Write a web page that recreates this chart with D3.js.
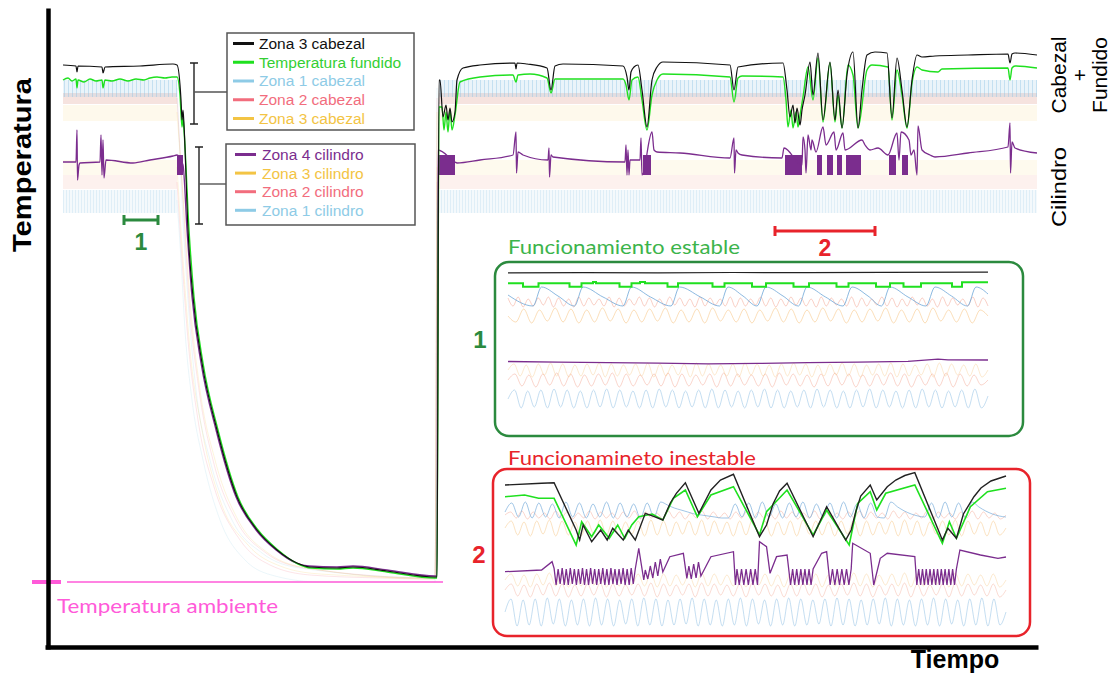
<!DOCTYPE html>
<html>
<head>
<meta charset="utf-8">
<script src="https://d3js.org/d3.v7.min.js"></script>
<style>
  body { margin: 0; background: #fff; }
  svg { display: block; }
</style>
</head>
<body>
<svg id="chart" width="1112" height="675"></svg>
<script>
// ---------- data: main run (t in minutes, T in degC) ----------
var zona3Cabezal = [[0,278.5],[6.5,278],[7,275],[7.5,278],[19.5,277.5],[20,274.5],[21,277.5],[38.5,278],[55,279],[57,278.5],
  [59,261],[59.5,251],[60,256],[60.5,248.5],[62.5,196],[65,162.5],[69.5,129.5],[77,96],[87,62.5],[97,46],[107,36],[117,29.5],
  [123.5,27.5],[137,27],[145,27.5],[162,25.5],[186,22.5],[187,22.5],[188,271],[188.5,271],[190,252.5],[191.5,258.5],[192.5,251],
  [193.5,257],[194.5,250],[196,255],[197,271],[200,277],[208.5,278.5],[226,279.5],[226.5,276.5],[227,279.5],[232,279],[242,277],
  [244,266],[246,278],[250,279],[280,278],[282,272.5],[283,266],[284,275],[285.5,277.5],[287.5,278.5],[289.5,266],[292,247.5],
  [294.5,271],[297,277.5],[300,280],[333.5,278.5],[335.5,266],[337.5,277.5],[360,279.5],[362,266],[363.5,252.5],[365,258.5],
  [366,249.5],[367,257],[368.5,248.5],[369.5,256],[371,263.5],[373.5,280],[375,263.5],[377.5,284.5],[380,251],[383.5,280],
  [386,251],[387.5,266],[389.5,247],[392,273.5],[395,285],[397.5,247],[399.5,266],[402,283.5],[406,285],[412,284.5],[414.5,252],
  [417,282],[419.5,266],[422,247.5],[424.5,271],[427,283.5],[429.5,282.5],[436,283],[452.5,283.5],[472.5,284],[473.5,279.5],
  [474.5,284],[476,284.5],[487,283.5]];

var tempFundido = [[0,271],[2.5,272],[4.5,270.5],[6.5,271.5],[7,267],[7.5,271],[10.5,270],[13.5,271.5],[16.5,270.5],[19.5,271],
  [20,267],[21,271],[24.5,270.5],[28.5,271.5],[32.5,270.5],[36.5,271.5],[40.5,271],[43.5,272],[47,272.5],[51,272],[54.5,272.5],
  [57,272.5],[58.5,263.5],[59.5,247.5],[60,252],[60.5,246],[63,196],[65.5,162.5],[70,129.5],[77.5,96],[87.5,62.5],[97.5,46],
  [107.5,36],[117.5,29],[124,27],[137,26.5],[145,27],[162,25],[186,22],[187,22],[188,257.5],[189.5,257.5],[190.5,246],[191.5,255],
  [192.5,245],[193.5,256],[194.5,246],[196,253.5],[198.5,270],[208.5,272.5],[225,273.5],[226.5,270],[227.5,273.5],[233.5,274],
  [242,272],[244,264.5],[246,271.5],[280,271.5],[281.5,268.5],[283,261],[284.5,271],[287.5,272.5],[289.5,261],[292,246],
  [294.5,263.5],[297,271],[300,274],[333.5,272.5],[335.5,260],[337.5,272],[339.5,273],[360,272.5],[361.5,261],[362.5,247.5],
  [364,256],[365,247],[366.5,255],[367.5,247.5],[368.5,253.5],[370,262.5],[372.5,277.5],[375,261],[377.5,282],[380,250],
  [383.5,279.5],[386,250],[387.5,263.5],[389.5,247],[392.5,278.5],[395,273.5],[397.5,247],[402,276],[404.5,278.5],[412.5,277.5],
  [414.5,251],[417,276],[419.5,263.5],[422,247],[424.5,269.5],[427,277.5],[429.5,276],[437.5,275],[439.5,276.5],[472.5,277],
  [473.5,271],[474.5,277],[476,278],[487,277]];

var zona4Cilindro = [[0,230],[6.5,230],[7,246],[7.25,221],[8,228.5],[8.5,229.5],[18.5,230],[19,243.5],[19.5,223.5],[20,241],
  [20.5,222],[21.5,231],[35,229.5],[43.5,231],[55,233],[57,233.5],[60,228.5],[62,196],[64.5,162.5],[69,129.5],[76.5,96],
  [86.5,62.5],[96.5,46],[106.5,36],[116.5,29.5],[123,28],[137,27.5],[145,28],[162,26],[186,23],[187,23],[187.5,236],[196,230],
  [197,229.5],[208.5,231],[225,233.5],[226.5,245],[226.75,224.5],[227.5,235],[230,233.5],[242.5,231],[243,237],[243.25,222.5],
  [244,233.5],[245,232.5],[281,230],[281.5,238.5],[282,223.5],[282.5,236],[283,223.5],[283.5,231],[288.5,231],[289,242],
  [289.5,223.5],[294.5,245],[295.5,236],[297,235],[308.5,234.5],[333.5,232],[335.5,242],[335.75,224.5],[336.5,236],[337.5,234.5],
  [339.5,233.5],[359.5,232],[360.5,237],[369.5,228.5],[370,242.5],[371,236],[371.5,224.5],[372.5,243.5],[374,236],[374.5,241],
  [376.5,235],[380,247.5],[381.5,238.5],[385.5,245],[386.5,236],[390,244.5],[391,236],[399.5,241],[401,238.5],[403.5,236],
  [407.5,237],[412.5,233.5],[417,244.5],[418,231],[419,245],[423,241],[424,233.5],[425.5,236],[427,223.5],[427.5,248],
  [429.5,236],[433.5,233.5],[436,232.5],[452.5,234.5],[472.5,237.5],[473.5,249.5],[473.75,224.5],[474.5,240],[476,237],[487,234.5]];

// dense oscillation blocks of zona 4 cilindro [t start, t end]
var zona4Bursts = [[57,60],[188,196],[290,294],[361,369.5],[377,379.5],[382,385],[387,389.5],[391.5,399],[413,416.5],[419.5,422.5]];
var zona4BurstRange = [223.5, 233.5];

// faint zones as bands [t, low, high]; null splits the two runs
var zona1CabezalBand = [[0,262.5,271],[57,262.5,271],null,[188,262.5,271],[487,262.5,271]];
var zona2CabezalBand = [[0,259,264.5],[57,259,264.5],null,[188,259,264.5],[487,259,264.5]];
var zona3CabezalBand = [[0,250.5,258.5],[57,250.5,258.5],null,[188,250.5,258.5],[487,250.5,258.5]];
var zona3CilindroBand = [[0,223.5,231],[57,223.5,231],null,[188,223.5,231],[487,223.5,231]];
var zona2CilindroBand = [[0,216.5,223.5],[57,216.5,223.5],null,[188,216.5,223.5],[487,216.5,223.5]];
var zona1CilindroBand = [[0,204.5,216],[57,204.5,216],null,[188,204.5,216],[487,204.5,216]];

// faint zones while cooling
var zona1CabezalDecay = [[57,267],[59.5,211],[62.5,161],[66.5,116],[73.5,81],[84.5,51],[99.5,34.5],[118.5,27],[186,22],[187,267]];
var zona2CabezalDecay = [[57,262],[60,211],[63,161],[68,116],[75,81],[86.5,51],[101.5,34.5],[121,27],[186,22],[187,262]];
var zona3CabezalDecay = [[57,255],[60.5,206],[63.5,161],[68.5,116],[76,81],[87.5,51],[102.5,34.5],[122,27],[186,21.5],[187,255]];
var zona3CilindroDecay = [[57,227.5],[60,181],[63.5,136],[69.5,96],[78.5,61],[92.5,38.5],[108.5,28],[128.5,24],[186,22],[187,227.5]];
var zona2CilindroDecay = [[57,220],[59.5,181],[62.5,141],[67.5,101],[76,66],[88.5,41],[103.5,28.5],[123.5,23.5],[158.5,22],[186,21.5],[187,220]];
var zona1CilindroDecay = [[57,211],[59,181],[61,146],[64.5,111],[70,81],[78.5,51],[91,31],[106,23],[128.5,20],[186,20],[187,211]];

var tAmbiente = 20;

// ---------- data: inset 1, stable run (t 0..96, level 0..174) ----------
var estableCab3 = [[0,163.2],[15,163.4],[30,163.1],[45,163.5],[60,163.3],[75,163.6],[96,163.8]];
var estableFundido = [[0,152.7],[3,149.3],[6.1,152.7],[12.3,149.3],[14.7,152.7],[17,154],[17.6,152.7],[22.3,149.3],[24.7,152.7],
  [26.4,154],[27.4,152.7],[31.9,149.3],[34,152.7],[40.9,149.3],[43.3,152.7],[48.8,149.3],[51.6,152.7],[57.1,149.3],[60.2,152.7],
  [65.7,149.3],[68.1,152.7],[73.6,149.3],[76.4,152.7],[79.1,149.3],[82.6,152.7],[88.8,149.3],[90.8,153.7],[96,153.7]];
var estableCab1 = [[0,141],[5,130],[6.7,149],[10,140],[13.3,130],[15,149],[19,139],[23,130],[24.7,149],[28.5,139],[32.6,130],
  [34.3,149],[38.5,139],[42.3,130],[44,149],[47,140],[49.8,130],[51.6,149],[55,140],[58.1,130],[59.8,149],[63.5,139],[67,130],
  [68.8,149],[72,140],[74.7,130],[76.4,149],[80,139],[83.6,130],[85.4,149],[88.7,140],[91.9,130],[93.6,149],[96,142]];
var estableCab2Osc = [138,130,139,129,137,130,138,131,139,129,138,130,137,129,139,130,138,131,137,130,139,129,138,130,137,131,
  139,130,138,129,137,130,139,131,138,130,137,129,139,130,138,131,137,130,139,129,138,130,137,131,139,130,138,129,137,130,139,131,
  138,130,137,129,139,130,138,131,137,130,139,129,138,130,137,131,139,130,138,129,137,130,139,131,138,130,137,129,139,130,138,131,
  137,130,139,129,138,130];
var estableCab3Osc = [120,114,127,113,126,115,128,114,127,113,126,114,128,115,127,113,126,114,127,115,128,113,126,114,127,113,
  128,115,126,114,127,113,126,115,128,114,127,113,126,114,128,115,127,113,126,114,127,115,128,113,126,114,127,113,128,115,126,114,
  127,113,126,120];
var estableCil4 = [[0,74.5],[10,73.8],[20,73.4],[30,72.8],[40,72.2],[50,72.6],[60,73.4],[70,73.8],[80,74.6],[86,76.8],[88,76.2],[96,76]];
var estableCil3Osc = [66,72,60,71,59,72,61,73,60,72,59,71,60,72,61,73,59,72,60,71,61,72,60,73,59,72,60,71,61,72,59,73,60,72,61,
  71,60,72,59,73,61,72,60,71,59,72,60,73,61,72,59,71,60,72,61,73,60,72,59,71,61,72,60,73,59,72,60,71,61,72,59,73,60,72,61,71,60,
  72,59,66];
var estableCil2Osc = [56,62,50,61,49,62,51,63,50,62,49,61,50,62,51,63,49,62,50,61,51,62,50,63,49,62,50,61,51,62,49,63,50,62,51,
  61,50,62,49,63,51,62,50,61,49,62,50,63,51,62,49,61,50,62,51,63,50,62,49,61,51,62,50,63,49,62,50,61,51,56];
var estableCil1Osc = [37,46,28,45,29,46,28,47,29,46,28,45,28,46,29,47,28,46,29,45,28,46,28,47,29,46,28,45,29,46,28,47,28,46,29,
  45,28,46,29,47,28,46,28,45,29,46,28,47,29,46,28,45,28,46,29,47,28,46,29,45,28,46,28,47,29,46,28,45,29,46,28,47,28,40];

// ---------- data: inset 2, unstable run (t 0..100, level 0..168) ----------
var inestableCab3 = [[0,151],[7.3,152.7],[9.8,153.3],[14.2,106],[14.9,96],[15.6,111],[17.3,94.3],[19.1,106],[20.4,96],
  [21.5,107.7],[23.6,96],[24.6,106],[26,96],[28,122.7],[29.8,119.3],[31.5,116],[33,133],[34.2,142.7],[36,153.3],[38.7,122.7],
  [41.1,146],[43,156],[45.6,161.7],[50.8,99.3],[52.2,111],[53.5,132],[54.8,145],[56.3,152.7],[61.5,99.3],[64.2,129.3],[68,96],
  [69.1,106],[70,124],[71,140],[72.9,151],[74.2,136],[76.3,149.3],[78,156],[79.8,160.5],[81.8,163.3],[87.3,96],[88.4,107.7],
  [90.1,97.7],[91.5,122],[93.6,139.3],[95,148],[97,155],[100,160]];
var inestableFundido = [[0,139.3],[3.9,141],[6.7,137.7],[9.8,137.7],[14.2,91],[15.3,114.3],[17.3,99.3],[18.7,111],[20.8,97.7],
  [22.5,111],[23.9,97.7],[25.3,111],[26.7,119.3],[29.4,122],[31.5,116],[33.6,137.7],[36,146],[38.4,119.3],[41.1,141],[45.6,149.3],
  [50.8,101],[52.2,124.3],[56.3,146],[61.5,101],[64.2,126],[68.7,91],[70.4,132.7],[72.9,144.3],[74.2,126],[76,142.7],[81.8,151],
  [87.3,92.7],[88.7,114.3],[90.1,97.7],[92.9,129.3],[96.3,144.3],[100,147.7]];
var inestableCil4 = [[0,64.3],[7.3,66],[9.4,74.3],[9.8,67.7],[26.7,87.7],[27.7,56],[32.9,79.3],[35.6,82.7],[36.3,57.7],
  [41.1,79.3],[45.6,84.3],[46,51],[50.8,94.3],[52.2,89.3],[52.9,62.7],[54.2,79.3],[56.3,81],[63.2,82.7],[64.2,84.3],[69.4,92.7],
  [72.9,82.7],[73.6,51],[74.9,77.7],[76.3,82.7],[81.8,79.3],[90.8,86],[94.9,81],[98.4,77.7],[100,79]];
var inestableCil4Osc = [
  {from: 10.2, to: 26, vals: [51,67,52,68,51,67,51,68,52,67,51,67,52,68,51,67,51,68,52,67,51,67,52,68,51,67,51,68,52,67,51,67,52,68,51,67,51,68,52,67]},
  {from: 28, to: 31.5, vals: [66,57,70,58,74,60,77,64]},
  {from: 36.7, to: 39.1, vals: [70,57,72,58,74,60]},
  {from: 46.3, to: 50.4, vals: [67,51,67,51,67,51,67,51,67,51]},
  {from: 57, to: 61.5, vals: [51,67,51,67,51,67,51,67,51,67,51,67]},
  {from: 64.9, to: 69.1, vals: [51,67,51,67,51,67,51,67,51,67]},
  {from: 82.2, to: 90.1, vals: [51,67,51,67,51,67,51,67,51,67,51,67,51,67,51,67,51,67,51,67,51,67]}
];
var inestableCab1Osc = [124,133,119,134,118,133,119,132,118,134,119,133,118,132,119,134,118,133,119,132,118,133,119,
  134,131,128,126,124,122,121,120,119,118,118,
  132,119,133,118,134,119,132,118,133,119,134,118,132,119,133,118,134,119,132,118,133,119,118,
  134,129,125,122,120,
  119,133,118,134,119,133,118,
  134,129,125,122,120,119];
var inestableCab2Osc = [121,124,118,125,117,124,118,123,117,125,118,124,117,123,118,125,117,124,118,123,117,124,118,125,117,
  124,118,123,117,125,118,124,117,123,118,125,117,124,118,123,117,124,118,125,117,124,118,123,117,125,118,124,117,123,118,125,117,
  124,118,123,117,124,118,125,117,124,118,123,117,125,118,124,117,123,118,125,117,124,118,123,117,124,118,125,117,124,118,123,117,121];
var inestableCab3Osc = [108,115,101,114,100,115,102,116,100,115,101,114,100,115,102,116,101,115,100,114,102,115,100,116,101,
  115,100,114,102,115,101,116,100,115,102,114,100,115,101,116,102,115,100,114,101,115,100,116,102,115,101,114,100,115,102,116,100,
  115,101,114,102,115,100,116,101,115,100,114,102,115,101,116,100,115,102,114,100,115,101,108];
var inestableCil3Osc = [56,62,50,61,49,62,51,63,50,62,49,61,50,62,51,63,49,62,50,61,51,62,50,63,49,62,50,61,51,62,49,63,50,62,
  51,61,50,62,49,63,51,62,50,61,49,62,50,63,51,62,49,61,50,62,51,63,50,62,49,61,51,62,50,63,49,62,50,61,51,62,49,63,50,62,51,61,
  50,62,49,56];
var inestableCil2Osc = [46,52,40,51,39,52,41,53,40,52,39,51,40,52,41,53,39,52,40,51,41,52,40,53,39,52,40,51,41,52,39,53,40,52,
  41,51,40,52,39,53,41,52,40,51,39,52,40,53,41,52,39,51,40,52,41,53,40,52,39,51,41,52,40,53,39,52,40,51,41,52,39,53,40,52,41,51,
  40,52,39,46];
var inestableCil1Osc = [24,37,10,36,11,37,10,38,12,37,10,36,11,37,10,38,11,37,10,36,12,37,10,38,11,37,10,36,11,37,12,38,10,37,
  11,36,10,37,11,38,10,37,12,36,10,37,11,38,10,37,11,36,12,37,10,38,11,37,10,36,11,37,12,38,10,37,11,36,10,37,11,38,10,37,12,36,
  10,37,11,38,10,37,11,24];

// ---------- legend ----------
var legendCabezal = ["Zona 3 cabezal", "Temperatura fundido", "Zona 1 cabezal", "Zona 2 cabezal", "Zona 3 cabezal"];
var legendCilindro = ["Zona 4 cilindro", "Zona 3 cilindro", "Zona 2 cilindro", "Zona 1 cilindro"];

var cBlack = "#111111", cGreen = "#1fe01f", cBlue = "#8ecbe6", cPink = "#f26d7d",
    cYellow = "#f3c444", cPurple = "#7b2d8e";
var legendCabezalColors = [cBlack, cGreen, cBlue, cPink, cYellow];
var legendCilindroColors = [cPurple, cYellow, cPink, cBlue];
var cGreenText = "#33cf33", cDarkGreen = "#2b8a3e", cRed = "#e8232b", cMagenta = "#ff5ad9";

var svg = d3.select("#chart");
var arial = "'Liberation Sans', Arial, sans-serif";
var soft = "Lato, 'Open Sans', sans-serif";

// striped fills for the spiky blue zones
var defs = svg.append("defs");
function stripes(id, color, op, gap) {
    var p = defs.append("pattern").attr("id", id)
        .attr("patternUnits", "userSpaceOnUse").attr("width", gap).attr("height", 10);
    p.append("rect").attr("width", gap).attr("height", 10).attr("fill", color).attr("fill-opacity", op * 0.45);
    p.append("rect").attr("width", 1).attr("height", 10).attr("fill", color).attr("fill-opacity", op);
}
stripes("stripeCab", "#8cc4e4", 0.4, 4);
stripes("stripeCil", "#b3d8ef", 0.32, 3);

// ---------- main scales ----------
var x = d3.scaleLinear().domain([0, 487]).range([63, 1037]);
var y = d3.scaleLinear().domain([20, 300]).range([582, 22]);

var mainLine = d3.line()
    .defined(function(d) { return d; })
    .x(function(d) { return x(d[0]); })
    .y(function(d) { return y(d[1]); })
    .curve(d3.curveMonotoneX);
var mainBand = d3.area()
    .defined(function(d) { return d; })
    .x(function(d) { return x(d[0]); })
    .y0(function(d) { return y(d[1]); })
    .y1(function(d) { return y(d[2]); });

var plot = svg.append("g");

var bands = [
    {data: zona3CabezalBand, fill: cYellow, op: 0.1},
    {data: zona2CabezalBand, fill: "#e2a89c", op: 0.32},
    {data: zona1CabezalBand, fill: "url(#stripeCab)", op: 1},
    {data: zona3CilindroBand, fill: cYellow, op: 0.09},
    {data: zona2CilindroBand, fill: "#f0a090", op: 0.15},
    {data: zona1CilindroBand, fill: "url(#stripeCil)", op: 1}
];
bands.forEach(function(b) {
    plot.append("path")
        .attr("d", mainBand(b.data))
        .attr("fill", b.fill)
        .attr("fill-opacity", b.op);
});

var decays = [
    {data: zona1CabezalDecay, color: cBlue},
    {data: zona2CabezalDecay, color: cPink},
    {data: zona3CabezalDecay, color: cYellow},
    {data: zona3CilindroDecay, color: cYellow},
    {data: zona2CilindroDecay, color: cPink},
    {data: zona1CilindroDecay, color: cBlue}
];
decays.forEach(function(d) {
    plot.append("path")
        .attr("d", mainLine(d.data))
        .attr("fill", "none")
        .attr("stroke", d.color)
        .attr("stroke-opacity", 0.18)
        .attr("stroke-width", 1);
});

// ambient temperature
plot.append("line")
    .attr("x1", x(2)).attr("x2", x(190))
    .attr("y1", y(tAmbiente)).attr("y2", y(tAmbiente))
    .attr("stroke", cMagenta).attr("stroke-width", 1.3);
plot.append("line")
    .attr("x1", 32).attr("x2", 61)
    .attr("y1", y(tAmbiente)).attr("y2", y(tAmbiente))
    .attr("stroke", cMagenta).attr("stroke-width", 4);
plot.append("text")
    .attr("x", 57).attr("y", 613)
    .attr("font-family", soft).attr("font-size", 20)
    .attr("fill", cMagenta)
    .attr("textLength", 221).attr("lengthAdjust", "spacingAndGlyphs")
    .text("Temperatura ambiente");

plot.selectAll("rect.burst")
    .data(zona4Bursts)
    .enter().append("rect")
    .attr("class", "burst")
    .attr("x", function(d) { return x(d[0]); })
    .attr("width", function(d) { return x(d[1]) - x(d[0]); })
    .attr("y", y(zona4BurstRange[1]))
    .attr("height", y(zona4BurstRange[0]) - y(zona4BurstRange[1]))
    .attr("fill", cPurple);

plot.append("path").attr("d", mainLine(zona4Cilindro))
    .attr("fill", "none").attr("stroke", cPurple).attr("stroke-width", 1.3);
plot.append("path").attr("d", mainLine(tempFundido))
    .attr("fill", "none").attr("stroke", cGreen).attr("stroke-width", 1.4);
plot.append("path").attr("d", mainLine(zona3Cabezal))
    .attr("fill", "none").attr("stroke", cBlack).attr("stroke-width", 1.2);

// ---------- axes (no ticks, just thick lines) ----------
var yAxis = d3.axisLeft(y.copy().range([649, 8])).tickValues([]).tickSizeOuter(0);
var xAxis = d3.axisBottom(x.copy().range([45, 1038])).tickValues([]).tickSizeOuter(0);
svg.append("g").attr("transform", "translate(48,0)").call(yAxis)
    .select(".domain").attr("stroke", "#000").attr("stroke-width", 4.5);
svg.append("g").attr("transform", "translate(0,647)").call(xAxis)
    .select(".domain").attr("stroke", "#000").attr("stroke-width", 4.5);

svg.append("text")
    .attr("transform", "translate(31,165) rotate(-90)")
    .attr("text-anchor", "middle")
    .attr("font-family", arial).attr("font-weight", "bold").attr("font-size", 26)
    .attr("textLength", 174).attr("lengthAdjust", "spacingAndGlyphs")
    .text("Temperatura");
svg.append("text")
    .attr("x", 955).attr("y", 668)
    .attr("text-anchor", "middle")
    .attr("font-family", arial).attr("font-weight", "bold").attr("font-size", 25)
    .text("Tiempo");

// right side labels
var sideCab = svg.append("text")
    .attr("transform", "translate(1066,75) rotate(-90)")
    .attr("text-anchor", "middle")
    .attr("font-family", arial).attr("font-size", 21);
sideCab.append("tspan").attr("x", 0).attr("dy", 0).text("Cabezal");
sideCab.append("tspan").attr("x", 0).attr("dy", 20.5).text("+");
sideCab.append("tspan").attr("x", 0).attr("dy", 20.5).text("Fundido");
svg.append("text")
    .attr("transform", "translate(1066,187) rotate(-90)")
    .attr("text-anchor", "middle")
    .attr("font-family", arial).attr("font-size", 21)
    .attr("textLength", 80).attr("lengthAdjust", "spacingAndGlyphs")
    .text("Cilindro");

// ---------- legends with brackets ----------
function drawLegend(names, colors, box, bracket) {
    var g = svg.append("g");
    g.append("path")
        .attr("d", "M" + (bracket.x - 4) + "," + bracket.y0 + "H" + (bracket.x + 4) +
                   "M" + bracket.x + "," + bracket.y0 + "V" + bracket.y1 +
                   "M" + (bracket.x - 4) + "," + bracket.y1 + "H" + (bracket.x + 4))
        .attr("fill", "none").attr("stroke", "#222").attr("stroke-width", 1.4);
    g.append("line")
        .attr("x1", bracket.x).attr("x2", box.x)
        .attr("y1", bracket.mid).attr("y2", bracket.mid)
        .attr("stroke", "#555").attr("stroke-width", 1.4);
    g.append("rect")
        .attr("x", box.x).attr("y", box.y).attr("width", box.w).attr("height", box.h)
        .attr("fill", "#fff").attr("stroke", "#555").attr("stroke-width", 1.5);
    var rows = g.selectAll("g.row").data(names).enter().append("g")
        .attr("transform", function(d, i) { return "translate(" + box.x + "," + (box.y + box.first + i * box.step) + ")"; });
    rows.append("line")
        .attr("x1", box.lx0).attr("x2", box.lx1)
        .attr("stroke", function(d, i) { return colors[i]; })
        .attr("stroke-width", 3);
    rows.append("text")
        .attr("x", box.tx).attr("dy", "0.35em")
        .attr("font-family", arial).attr("font-size", 15.5)
        .attr("fill", function(d, i) { return colors[i] === cGreen ? cGreenText : colors[i]; })
        .text(function(d) { return d; });
}
drawLegend(legendCabezal, legendCabezalColors,
    {x: 227, y: 33, w: 187, h: 97, first: 10.5, step: 18.75, lx0: 6, lx1: 27, tx: 32},
    {x: 194, y0: 63, y1: 124, mid: 92});
drawLegend(legendCilindro, legendCilindroColors,
    {x: 226, y: 144, w: 189, h: 81, first: 10.5, step: 18.6, lx0: 9, lx1: 30, tx: 36},
    {x: 199, y0: 147, y1: 224, mid: 184});

// period markers
function drawMarker(t0, t1, yy, label, color, labelY) {
    var g = svg.append("g");
    g.append("path")
        .attr("d", "M" + x(t0) + "," + (yy - 5) + "V" + (yy + 5) + "M" + x(t0) + "," + yy + "H" + x(t1) +
                   "M" + x(t1) + "," + (yy - 5) + "V" + (yy + 5))
        .attr("fill", "none").attr("stroke", color).attr("stroke-width", 3);
    g.append("text")
        .attr("x", (x(t0) + x(t1)) / 2).attr("y", labelY)
        .attr("text-anchor", "middle")
        .attr("font-family", arial).attr("font-weight", "bold").attr("font-size", 23)
        .attr("fill", color)
        .text(label);
}
drawMarker(30.5, 47.5, 220, "1", cDarkGreen, 250);
drawMarker(356, 406, 231, "2", cRed, 256);

// ---------- insets ----------
function spread(vals, t0, t1) {
    return vals.map(function(v, i) { return [t0 + i * (t1 - t0) / (vals.length - 1), v]; });
}

function drawInset(cfg) {
    var g = svg.append("g");
    var ix = d3.scaleLinear().domain(cfg.tDomain).range(cfg.xRange);
    var iy = d3.scaleLinear().domain(cfg.vDomain).range(cfg.yRange);
    var clipId = "clip" + cfg.id;
    g.append("clipPath").attr("id", clipId)
        .append("rect").attr("x", cfg.box.x + 2).attr("y", cfg.box.y + 2)
        .attr("width", cfg.box.w - 4).attr("height", cfg.box.h - 4).attr("rx", 12);
    var inner = g.append("g").attr("clip-path", "url(#" + clipId + ")");
    cfg.series.forEach(function(s) {
        var l = d3.line()
            .x(function(d) { return ix(d[0]); })
            .y(function(d) { return iy(d[1]); })
            .curve(s.curve || d3.curveLinear);
        inner.append("path")
            .attr("d", l(s.points))
            .attr("fill", "none")
            .attr("stroke", s.color)
            .attr("stroke-opacity", s.op || 1)
            .attr("stroke-width", s.w || 1);
    });
    g.append("rect")
        .attr("x", cfg.box.x).attr("y", cfg.box.y).attr("width", cfg.box.w).attr("height", cfg.box.h)
        .attr("rx", 14).attr("fill", "none")
        .attr("stroke", cfg.color).attr("stroke-width", 2.5);
    g.append("text")
        .attr("x", cfg.title.x).attr("y", cfg.title.y)
        .attr("font-family", soft).attr("font-size", 20)
        .attr("fill", cfg.titleColor)
        .attr("textLength", cfg.title.len).attr("lengthAdjust", "spacingAndGlyphs")
        .text(cfg.title.text);
    g.append("text")
        .attr("x", cfg.num.x).attr("y", cfg.num.y)
        .attr("text-anchor", "middle")
        .attr("font-family", arial).attr("font-weight", "bold").attr("font-size", 24)
        .attr("fill", cfg.color)
        .text(cfg.num.text);
}

var smooth = d3.curveMonotoneX;
drawInset({
    id: 1, color: cDarkGreen, titleColor: "#3cb44b",
    tDomain: [0, 96], xRange: [508, 988],
    vDomain: [0, 174], yRange: [436, 262],
    box: {x: 495, y: 262, w: 528, h: 174},
    title: {x: 508, y: 254, text: "Funcionamiento estable", len: 232},
    num: {x: 480, y: 348, text: "1"},
    series: [
        {points: spread(estableCil1Osc, 0, 96), color: "#7fb6df", op: 0.45, curve: smooth},
        {points: spread(estableCil2Osc, 0, 96), color: "#f08a70", op: 0.35, curve: smooth},
        {points: spread(estableCil3Osc, 0, 96), color: "#f6b868", op: 0.3, curve: smooth},
        {points: estableCil4, color: cPurple, w: 1.3},
        {points: spread(estableCab3Osc, 0, 96), color: "#f6b868", op: 0.45, curve: smooth},
        {points: spread(estableCab2Osc, 0, 96), color: "#f08a70", op: 0.4, curve: smooth},
        {points: estableCab1, color: "#6fa8d8", op: 0.8, curve: smooth},
        {points: estableFundido, color: cGreen, w: 2, curve: d3.curveStepAfter},
        {points: estableCab3, color: "#222", w: 1.2}
    ]
});

var inestableCil4All = inestableCil4.slice();
inestableCil4Osc.forEach(function(seg) {
    inestableCil4All = inestableCil4All.concat(spread(seg.vals, seg.from, seg.to));
});
inestableCil4All.sort(function(a, b) { return a[0] - b[0]; });

drawInset({
    id: 2, color: cRed, titleColor: cRed,
    tDomain: [0, 100], xRange: [505, 1006],
    vDomain: [0, 168], yRange: [636, 468],
    box: {x: 493, y: 469, w: 537, h: 167},
    title: {x: 508, y: 465, text: "Funcionamineto inestable", len: 248},
    num: {x: 479, y: 563, text: "2"},
    series: [
        {points: spread(inestableCil1Osc, 0, 100), color: "#7fb6df", op: 0.45, curve: smooth},
        {points: spread(inestableCil2Osc, 0, 100), color: "#f08a70", op: 0.3, curve: smooth},
        {points: spread(inestableCil3Osc, 0, 100), color: "#f6b868", op: 0.3, curve: smooth},
        {points: inestableCil4All, color: cPurple, w: 1.3},
        {points: spread(inestableCab3Osc, 0, 100), color: "#f6b868", op: 0.4, curve: smooth},
        {points: spread(inestableCab2Osc, 0, 100), color: "#f08a70", op: 0.35, curve: smooth},
        {points: spread(inestableCab1Osc, 0, 100), color: "#6fa8d8", op: 0.65, curve: smooth},
        {points: inestableFundido, color: cGreen, w: 1.6},
        {points: inestableCab3, color: "#222", w: 1.4}
    ]
});
</script>
</body>
</html>
